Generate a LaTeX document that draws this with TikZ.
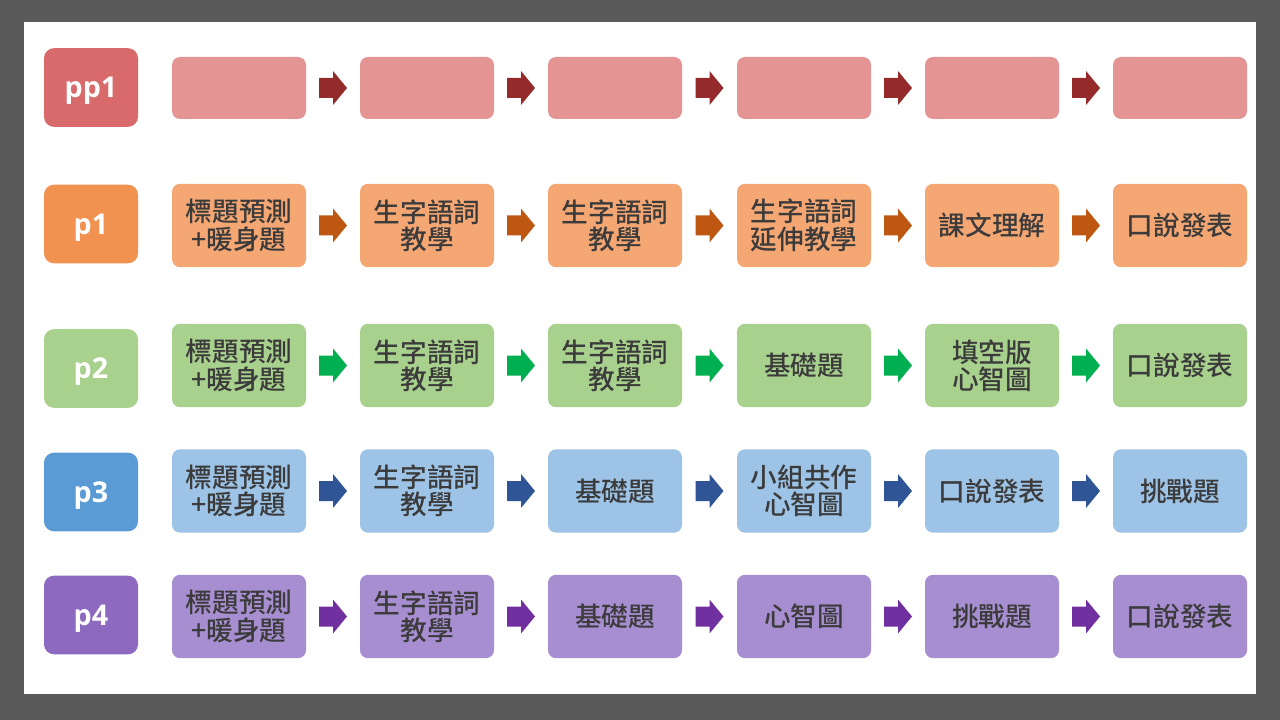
\documentclass[tikz,border=0pt]{standalone}
\usepackage{fontspec}
\usetikzlibrary{calc}
\newfontfamily\cjkb{Noto Sans CJK TC Medium}
\newfontfamily\labf{Open Sans}
\definecolor{bgg}{HTML}{595959}
\definecolor{txt}{HTML}{3B3B3B}
\definecolor{lA}{HTML}{D86A6B}\definecolor{bA}{HTML}{E59494}\definecolor{aA}{HTML}{952A2A}
\definecolor{lB}{HTML}{F19250}\definecolor{bB}{HTML}{F4A673}\definecolor{aB}{HTML}{BE5712}
\definecolor{lC}{HTML}{A9D18E}\definecolor{bC}{HTML}{A9D18E}\definecolor{aC}{HTML}{00B050}
\definecolor{lD}{HTML}{5B9BD5}\definecolor{bD}{HTML}{9DC3E6}\definecolor{aD}{HTML}{2F5597}
\definecolor{lE}{HTML}{8D69C0}\definecolor{bE}{HTML}{A78ED1}\definecolor{aE}{HTML}{7030A0}
\tikzset{
  lab/.style={rounded corners=7.5pt, minimum width=70.5pt, minimum height=59pt, inner sep=0pt,
    text=white, text depth=0pt, font=\labf\bfseries\fontsize{21.5}{24}\selectfont},
  stepbox/.style={rounded corners=6pt, minimum width=100.5pt, minimum height=62.5pt, inner sep=0pt,
    text=txt, align=center, font=\cjkb\fontsize{20}{20.5}\selectfont},
  thin row/.style={minimum height=46.5pt},
}
\newcommand\arw[3]{\fill[#3] ($(#1.east)!.5!(#2.west)$) ++(-14,-10) -- ++(14,0) -- ++(0,-7) -- ++(14,17) -- ++(-14,17) -- ++(0,-7) -- ++(-14,0) -- cycle;}
\begin{document}
\begin{tikzpicture}[x=0.75pt,y=-0.75pt]
\fill[bgg] (0,0) rectangle (1280,720);
\useasboundingbox (0,0) rectangle (1280,720);
\fill[white] (24,22) rectangle (1256,694);
% labels
\node[lab, fill=lA] (LA) at (91,87.5) {pp1};
\node[lab, fill=lB] (LB) at (91,224) {p1};
\node[lab, fill=lC] (LC) at (91,368.5) {p2};
\node[lab, fill=lD] (LD) at (91,492) {p3};
\node[lab, fill=lE] (LE) at (91,615) {p4};
% row pp1
\foreach \i/\x in {1/239,2/427,3/615,4/804,5/992,6/1180}{
  \node[stepbox, thin row, fill=bA] (A\i) at (\x,88) {};
}
% row p1
\node[stepbox, fill=bB] (B1) at (239,225.5) {標題預測\\+暖身題};
\node[stepbox, fill=bB] (B2) at (427,225.5) {生字語詞\\教學};
\node[stepbox, fill=bB] (B3) at (615,225.5) {生字語詞\\教學};
\node[stepbox, fill=bB] (B4) at (804,225.5) {生字語詞\\延伸教學};
\node[stepbox, fill=bB] (B5) at (992,225.5) {課文理解};
\node[stepbox, fill=bB] (B6) at (1180,225.5) {口說發表};
% row p2
\node[stepbox, fill=bC] (C1) at (239,365.5) {標題預測\\+暖身題};
\node[stepbox, fill=bC] (C2) at (427,365.5) {生字語詞\\教學};
\node[stepbox, fill=bC] (C3) at (615,365.5) {生字語詞\\教學};
\node[stepbox, fill=bC] (C4) at (804,365.5) {基礎題};
\node[stepbox, fill=bC] (C5) at (992,365.5) {填空版\\心智圖};
\node[stepbox, fill=bC] (C6) at (1180,365.5) {口說發表};
% row p3
\node[stepbox, fill=bD] (D1) at (239,491) {標題預測\\+暖身題};
\node[stepbox, fill=bD] (D2) at (427,491) {生字語詞\\教學};
\node[stepbox, fill=bD] (D3) at (615,491) {基礎題};
\node[stepbox, fill=bD] (D4) at (804,491) {小組共作\\心智圖};
\node[stepbox, fill=bD] (D5) at (992,491) {口說發表};
\node[stepbox, fill=bD] (D6) at (1180,491) {挑戰題};
% row p4
\node[stepbox, fill=bE] (E1) at (239,616.5) {標題預測\\+暖身題};
\node[stepbox, fill=bE] (E2) at (427,616.5) {生字語詞\\教學};
\node[stepbox, fill=bE] (E3) at (615,616.5) {基礎題};
\node[stepbox, fill=bE] (E4) at (804,616.5) {心智圖};
\node[stepbox, fill=bE] (E5) at (992,616.5) {挑戰題};
\node[stepbox, fill=bE] (E6) at (1180,616.5) {口說發表};
% arrows
\foreach \r in {A,B,C,D,E}{
  \foreach \i/\j in {1/2,2/3,3/4,4/5,5/6}{
    \arw{\r\i}{\r\j}{a\r}
  }
}
\end{tikzpicture}
\end{document}
